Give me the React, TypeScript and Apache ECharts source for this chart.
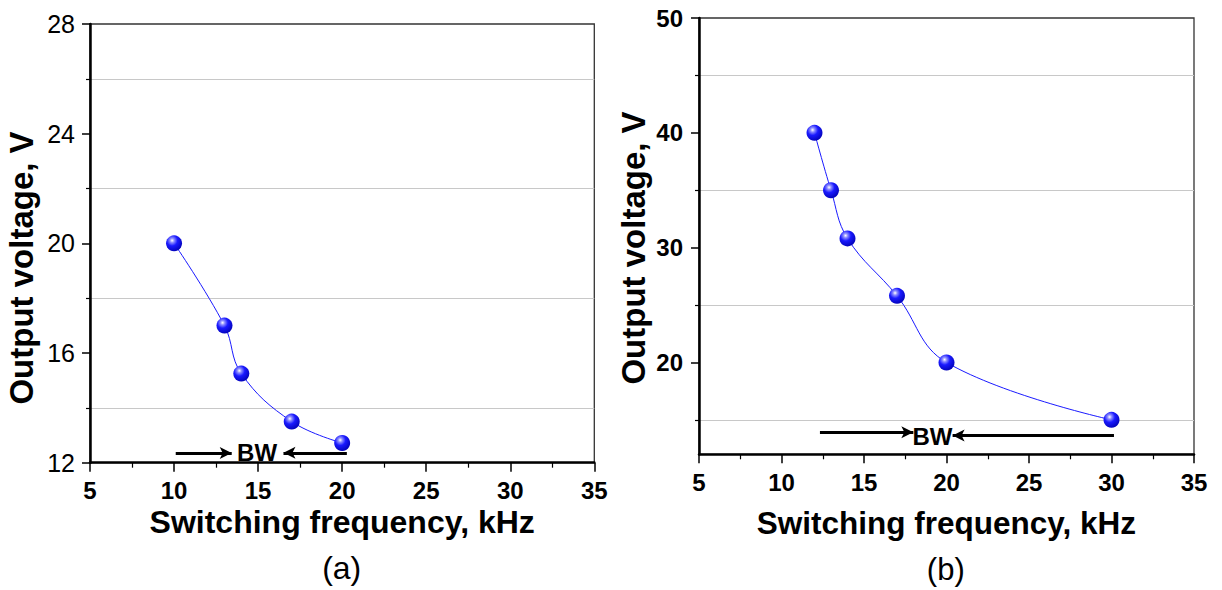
import React, { useEffect, useRef } from 'react';
import * as echarts from 'echarts';

// ---- data ----
const freqA = [10, 13, 14, 17, 20];
const voltA = [20.0, 17.0, 15.25, 13.5, 12.72];
const freqB = [12, 13, 14, 17, 20, 30];
const voltB = [40.0, 35.0, 30.8, 25.8, 20.0, 15.0];

const yMajorB = [20, 30, 40, 50];
const yMinorB = [15, 25, 35, 45];

// BW arrows: [x0, y0, x1, y1] (arrow head at x1,y1)
const bwArrowsA = [
  [10.1, 12.35, 13.43, 12.35],
  [20.28, 12.36, 16.51, 12.36],
];
const bwLabelA = [14.94, 12.39];
const bwArrowsB = [
  [12.33, 13.93, 17.99, 13.93],
  [30.15, 13.64, 20.37, 13.64],
];
const bwLabelB = [19.15, 13.56];

const xTitle = 'Switching frequency, kHz';
const yTitle = 'Output voltage, V';
const panelLabels = ['(a)', '(b)'];

const SANS = "'Liberation Sans', Arial, Helvetica, sans-serif";

function sphere() {
  return new echarts.graphic.RadialGradient(0.38, 0.32, 0.75, [
    { offset: 0, color: '#ffffff' },
    { offset: 0.18, color: '#8c8cff' },
    { offset: 0.45, color: '#1a1aff' },
    { offset: 1, color: '#0000b0' },
  ]);
}

function arrows(list: number[][]) {
  return list.map((a) => [
    { coord: [a[0], a[1]], symbol: 'none' },
    { coord: [a[2], a[3]], symbol: 'arrow' },
  ]);
}

function xAxisFor(grid: number) {
  return {
    type: 'value',
    gridIndex: grid,
    min: 5,
    max: 35,
    interval: 5,
    axisLine: { show: true, onZero: false, lineStyle: { color: '#000', width: 2.5 } },
    axisTick: { show: true, inside: false, length: 9, lineStyle: { color: '#000', width: 1.5 } },
    minorTick: { show: true, splitNumber: 2, length: 5, lineStyle: { color: '#000', width: 1.2 } },
    splitLine: { show: false },
    minorSplitLine: { show: false },
    axisLabel: { color: '#000', fontFamily: SANS, fontWeight: 'bold', fontSize: 24, margin: 16 },
  };
}

function bwLabel(coord: number[]) {
  return {
    silent: true, symbol: 'circle', symbolSize: 1, itemStyle: { color: 'transparent' },
    label: { show: true, position: 'inside', formatter: 'BW', color: '#000', fontFamily: SANS, fontWeight: 'bold', fontSize: 24 },
    data: [{ coord }],
  };
}

function arrowLines(list: number[][]) {
  return {
    silent: true, symbolSize: [9, 12], precision: 4,
    lineStyle: { color: '#000', width: 3, type: 'solid' },
    label: { show: false },
    data: arrows(list),
  };
}

function titleText(text: string, x: number, y: number, font: string, rotate = false) {
  return {
    type: 'text', x, y, rotation: rotate ? Math.PI / 2 : 0,
    style: { text, font, fill: '#000', align: 'center', verticalAlign: 'middle', textAlign: 'center', textVerticalAlign: 'middle' },
  };
}

export default function App() {
  const ref = useRef<HTMLDivElement>(null);
  useEffect(() => {
    if (!ref.current) return;
    const chart = echarts.init(ref.current, null, { renderer: 'svg' });
    const option: any = {
      animation: false,
      backgroundColor: '#fff',
      grid: [
        { left: 90, top: 24, right: 627.7, bottom: 127.3, show: true, borderColor: '#333', borderWidth: 1.3, backgroundColor: 'transparent', containLabel: false, outerBoundsMode: 'none' },
        { left: 699, top: 18, right: 28, bottom: 135.7, show: true, borderColor: '#333', borderWidth: 1.3, backgroundColor: 'transparent', containLabel: false, outerBoundsMode: 'none' },
      ],
      xAxis: [xAxisFor(0), xAxisFor(1)],
      yAxis: [
        {
          type: 'value', gridIndex: 0, min: 12, max: 28, interval: 4,
          axisLine: { show: true, onZero: false, lineStyle: { color: '#000', width: 2.5 } },
          axisTick: { show: true, inside: false, length: 8, lineStyle: { color: '#000', width: 1.5 } },
          minorTick: { show: true, splitNumber: 2, length: 4, lineStyle: { color: '#000', width: 1.2 } },
          splitLine: { show: false },
          minorSplitLine: { show: true, lineStyle: { color: '#c8c8c8', width: 1 } },
          axisLabel: { color: '#000', fontFamily: SANS, fontSize: 25, margin: 15 },
        },
        {
          type: 'value', gridIndex: 1, min: 12, max: 50, position: 'left',
          axisLine: { show: true, onZero: false, lineStyle: { color: '#000', width: 2.5 } },
          axisTick: { show: true, inside: false, length: 8, customValues: yMajorB, lineStyle: { color: '#000', width: 1.5 } },
          splitLine: { show: false },
          axisLabel: { color: '#000', fontFamily: SANS, fontWeight: 'bold', fontSize: 24, margin: 16, customValues: yMajorB },
        },
        {
          type: 'value', gridIndex: 1, min: 12, max: 50, position: 'left',
          axisLine: { show: false },
          axisTick: { show: true, inside: false, length: 4, customValues: yMinorB, lineStyle: { color: '#000', width: 1.2 } },
          splitLine: { show: true, lineStyle: { color: '#c8c8c8', width: 1 } },
          axisLabel: { show: false, customValues: yMinorB },
        },
      ],
      series: [
        {
          type: 'line', xAxisIndex: 0, yAxisIndex: 0,
          data: freqA.map((f, i) => [f, voltA[i]]),
          smooth: 0.4,
          symbol: 'circle', symbolSize: 16,
          lineStyle: { color: '#1a1aff', width: 1 },
          itemStyle: { color: sphere(), borderWidth: 0 },
          z: 5,
          markLine: arrowLines(bwArrowsA),
          markPoint: bwLabel(bwLabelA),
        },
        {
          type: 'line', xAxisIndex: 1, yAxisIndex: 1,
          data: freqB.map((f, i) => [f, voltB[i]]),
          smooth: 0.4,
          symbol: 'circle', symbolSize: 16,
          lineStyle: { color: '#1a1aff', width: 1 },
          itemStyle: { color: sphere(), borderWidth: 0 },
          z: 5,
          markLine: arrowLines(bwArrowsB),
          markPoint: bwLabel(bwLabelB),
        },
      ],
      graphic: [
        titleText(xTitle, 342.2, 522, `bold 32px ${SANS}`),
        titleText(xTitle, 946.3, 522.5, `bold 31.5px ${SANS}`),
        titleText(yTitle, 21, 268, `bold 33px ${SANS}`, true),
        titleText(yTitle, 633, 248, `bold 33px ${SANS}`, true),
        titleText(panelLabels[0], 341.7, 568, `32px ${SANS}`),
        titleText(panelLabels[1], 945.8, 569, `31px ${SANS}`),
      ],
    };
    chart.setOption(option);
    return () => chart.dispose();
  }, []);
  return <div ref={ref} style={{ position: 'fixed', left: 0, top: 0, width: 1222, height: 590, background: '#fff' }} />;
}
